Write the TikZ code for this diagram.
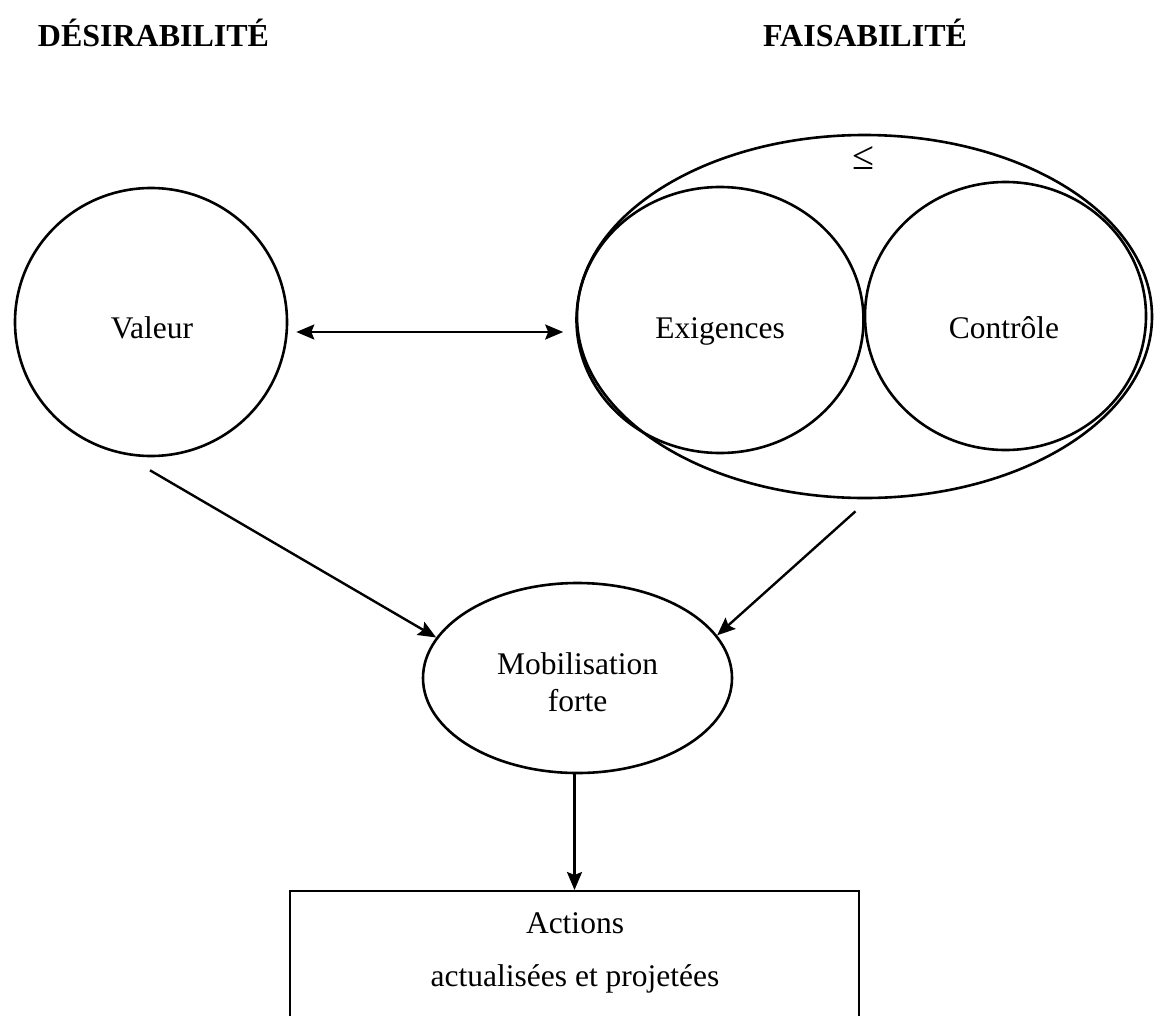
\documentclass[tikz,border=0pt]{standalone}
\usepackage{fontspec}
\setmainfont{Liberation Serif}
\usetikzlibrary{shapes.geometric,arrows.meta}

\tikzset{
  txt/.style={font=\fontsize{31.5}{37}\selectfont, align=center},
  lbl/.style={txt, anchor=base, inner sep=0pt},
  title/.style={font=\fontsize{32}{38}\selectfont\bfseries},
  oval/.style={draw, ellipse, line width=2.6pt, inner sep=0pt},
  conn/.style={line width=2.4pt, -{Stealth[length=18pt,width=15pt,inset=3pt]}},
  biconn/.style={line width=2.4pt, {Stealth[length=18pt,width=15pt,inset=3pt]}-{Stealth[length=18pt,width=15pt,inset=3pt]}},
}

\begin{document}
\begin{tikzpicture}[x=1pt, y=-1pt]
  \clip (0,0) rectangle (1155,1015);
  \fill[white] (0,0) rectangle (1155,1015);

  % column headings
  \node[title] (hdes) at (153.5,33) {DÉSIRABILITÉ};
  \node[title] (hfai) at (865,33) {FAISABILITÉ};

  % desirability side
  \node[oval, minimum width=272pt, minimum height=268pt] (valeur) at (151,322) {};
  \node[lbl] (valtext) at (152,338) {Valeur};

  % feasibility side: outer oval holding the two components
  \node[oval, minimum width=575pt, minimum height=363pt] (faisab) at (864.5,316.5) {};
  \node[font=\fontsize{40}{44}\selectfont] (leq) at (863,158) {≤};
  \node[oval, minimum width=287pt, minimum height=266pt] (exig) at (720,320) {};
  \node[lbl] (exigtext) at (720,338) {Exigences};
  \node[oval, minimum width=281pt, minimum height=268pt] (ctrl) at (1005.5,316) {};
  \node[lbl] (ctrltext) at (1004,338) {Contrôle};

  % mobilisation
  \node[oval, minimum width=309pt, minimum height=190pt] (mob) at (577.5,678) {};
  \node[lbl] (mobtext1) at (577.5,674) {Mobilisation};
  \node[lbl] (mobtext2) at (577.5,711) {forte};

  % actions box (runs past the lower edge)
  \node[draw, line width=2.2pt, minimum width=569pt, minimum height=200pt, anchor=north, inner sep=0pt] (actbox) at (574.5,890) {};
  \node[lbl] (acttext1) at (575,933) {Actions};
  \node[lbl] (acttext2) at (575,986) {actualisées et projetées};

  % connectors
  \draw[biconn, shorten <=8pt, shorten >=12pt] ([yshift=-10pt]valeur.east) -- ([yshift=-12pt]exig.west);
  \draw[conn] ([xshift=-1pt,yshift=-13pt]valeur.south) -- (mob.164);
  \draw[conn] ([xshift=-9pt,yshift=-12pt]faisab.south) -- (mob.17);
  \draw[conn] ([xshift=-3pt]mob.south) -- ([xshift=-3pt]mob.south |- actbox.north);
\end{tikzpicture}
\end{document}
